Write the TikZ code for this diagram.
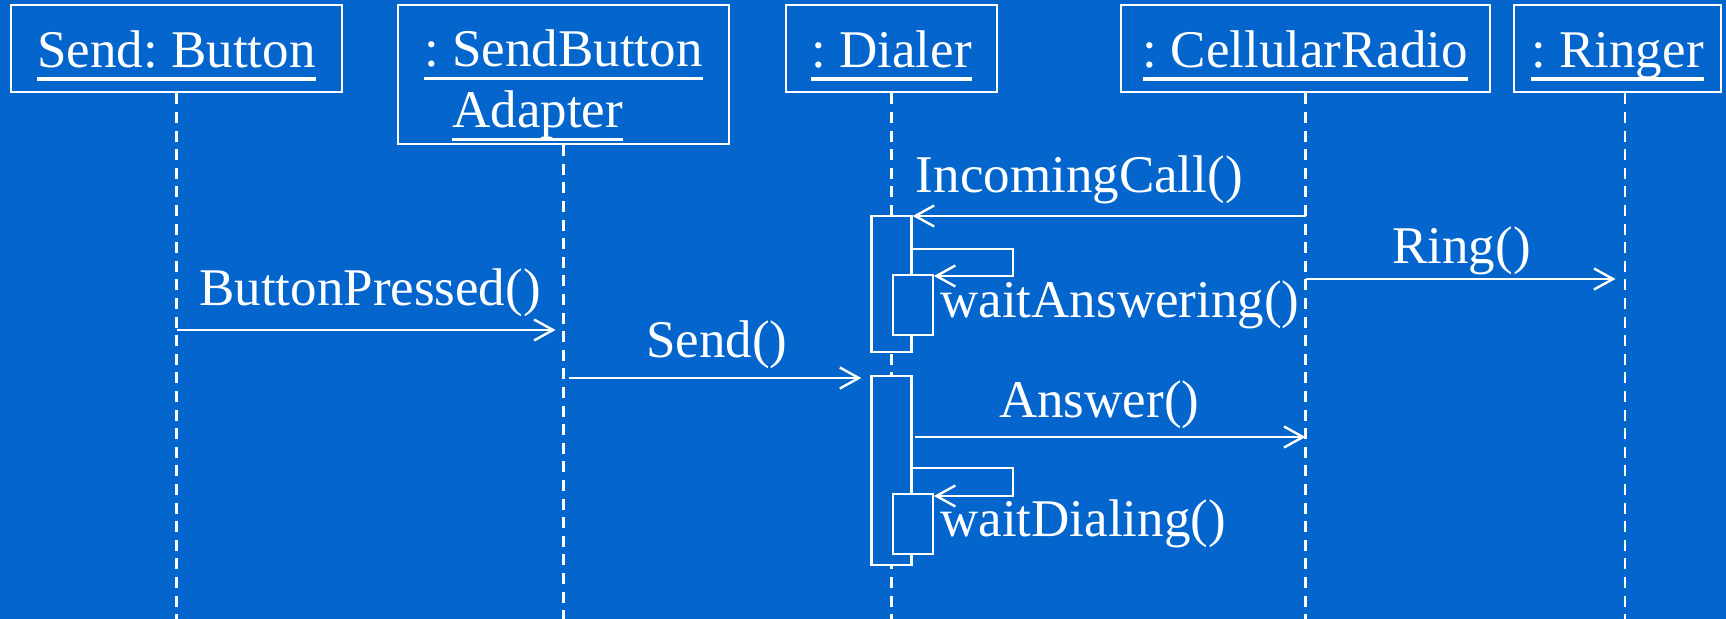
\documentclass[tikz,border=0pt]{standalone}
\usepackage{fontspec}
\setmainfont{Liberation Serif}
\usetikzlibrary{positioning,calc,arrows.meta}
\definecolor{slideblue}{RGB}{4,102,204}
\newcommand\uname[1]{\setbox0\hbox{#1}\rlap{\rule[-6.7pt]{\wd0}{1.6pt}}\box0}
\tikzstyle{object}=[draw=white,text=white,line width=1.2pt,inner sep=0pt,text height=31pt,text depth=12.5pt,minimum height=43.5pt]
\tikzstyle{lifeline}=[white,line width=1.1pt,dash pattern=on 5.5pt off 3.8pt]
\tikzstyle{activation}=[draw=white,fill=slideblue,line width=1.2pt,minimum width=20pt,inner sep=0pt]
\tikzstyle{msg}=[->,white,line width=1.2pt]
\tikzstyle{msglabel}=[text=white,anchor=base,inner sep=0pt]

\begin{document}
\frenchspacing
\begin{tikzpicture}[x=0.5pt,y=-0.5pt,>={Straight Barb[length=9.5pt,width=10.5pt]},font=\fontsize{26.5}{30.5}\selectfont]
\useasboundingbox (0,0) rectangle (1726,619);
\fill[slideblue] (0,0) rectangle (1726,619);
\node[object,minimum width=165.5pt] (button) at (176.5,48.75) {\uname{Send: Button}};
\node[object,minimum width=165.5pt,text depth=38.5pt,minimum height=69.5pt] (adapter) at (563.5,74.5) {\begin{tabular}[t]{@{}l@{}}\uname{: SendButton}\\\phantom{: }\uname{Adapter}\end{tabular}};
\node[object,minimum width=105.5pt] (dialer) at (891.5,48.75) {\uname{: Dialer}};
\node[object,minimum width=184.5pt] (radio) at (1305.5,48.75) {\uname{: CellularRadio}};
\node[object,minimum width=103.5pt] (ringer) at (1617.5,48.75) {\uname{: Ringer}};
\foreach \obj in {button,adapter,dialer,radio}
  \draw[lifeline] (\obj.south) -- (\obj.south |- 0,619);
\draw[lifeline] ($(ringer.south)+(7.5,0)$) -- ++(0,527);
\node[activation,anchor=north,minimum height=68pt] (act1) at (dialer.south |- 0,215) {};
\node[activation,anchor=north west,minimum height=30pt] (wait1) at (dialer.south |- 0,274) {};
\node[activation,anchor=north,minimum height=94.5pt] (act2) at (dialer.south |- 0,375) {};
\node[activation,anchor=north west,minimum height=30pt] (wait2) at (dialer.south |- 0,493) {};
\draw[msg] (radio.south |- 0,216) -- (act1.east |- 0,216) node[msglabel,pos=0.576,yshift=11.5pt] (lblcall) {IncomingCall()};
\draw[msg,shorten >=1pt] (radio.south |- 0,279) -- (ringer.south |- 0,279) node[msglabel,midway,yshift=7.5pt] (lblring) {Ring()};
\draw[msg,shorten >=4pt] (button.south |- 0,330) -- (adapter.south |- 0,330) node[msglabel,midway,yshift=12pt] (lblpressed) {ButtonPressed()};
\draw[msg,shorten <=2.5pt,shorten >=4.5pt] (adapter.south |- 0,378) -- (act2.west |- 0,378) node[msglabel,midway,yshift=10pt] (lblsend) {Send()};
\draw[msg,shorten <=1pt] (act2.east |- 0,437) -- (radio.south |- 0,437) node[msglabel,pos=0.475,yshift=9.5pt] (lblanswer) {Answer()};
\draw[msg] (act1.east |- 0,249) -- ++(100,0) |- (wait1.east |- 0,276);
\node[msglabel,anchor=base west] (lblanswering) at (940,318) {waitAnswering()};
\draw[msg] (act2.east |- 0,468) -- ++(100,0) |- (wait2.east |- 0,496);
\node[msglabel,anchor=base west] (lbldialing) at (940,537) {waitDialing()};
\end{tikzpicture}
\end{document}
